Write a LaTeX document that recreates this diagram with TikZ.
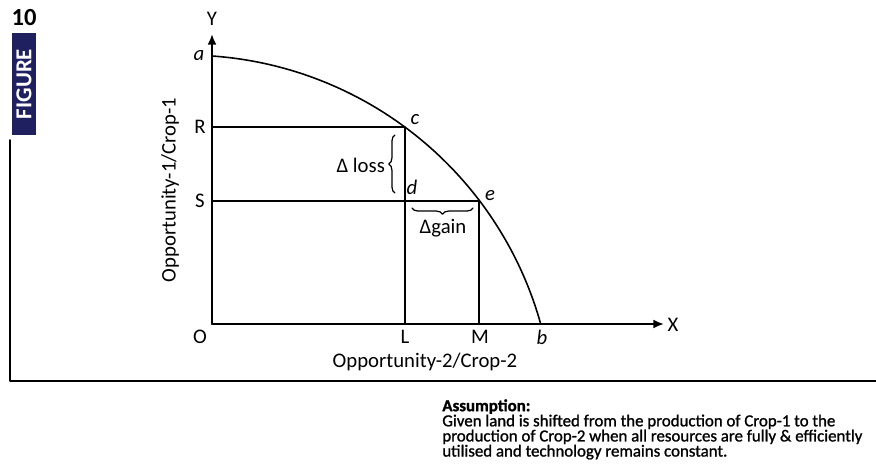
\documentclass[tikz,border=0pt]{standalone}
\usepackage{fontspec}
\setmainfont{Carlito}
\newfontfamily\notefont[FakeBold=1.2]{Carlito}
\usetikzlibrary{arrows.meta,decorations.pathreplacing}
\definecolor{badgeblue}{RGB}{30,32,96}
\tikzset{
  ppc graph/.style={
    x=0.02cm,
    y=0.02cm,
    line cap=round,
    line join=round
  },
  ppc axis/.style={
    line width=1.1pt,
    -{Latex[length=6pt,width=5pt]}
  },
  ppc guide/.style={
    line width=0.8pt
  },
  ppc curve/.style={
    line width=0.9pt
  },
  ppc label/.style={
    font=\fontsize{11.8}{12}\selectfont,
    inner sep=1pt
  },
  ppc point/.style={
    font=\fontsize{11.8}{12}\selectfont\itshape,
    inner sep=1pt
  },
  ppc brace/.style={
    line width=0.7pt,
    decorate,
    decoration={brace,amplitude=3.5pt}
  },
  ppc note/.style={
    font=\notefont\fontsize{9.6}{8.6}\selectfont,
    align=left,
    inner sep=0pt,
    anchor=north west
  }
}

\begin{document}
\begin{tikzpicture}[ppc graph]
  \useasboundingbox (-212,-142) rectangle (664,324);
  % frame and badge
  \draw[line width=1pt] (-202,184) -- (-202,-57) -- (670,-57);
  \fill[badgeblue] (-200,291) rectangle (-176,189);
  \node[rotate=90,text=white,font=\fontsize{13}{13}\selectfont\bfseries,inner sep=0pt] (fig) at (-188,240) {FIGURE};
  \node[font=\fontsize{14}{14}\selectfont\bfseries,inner sep=0pt] (num) at (-188,306) {10};

  \coordinate (O) at (0,0);
  \coordinate (ytop) at (0,290);
  \coordinate (xend) at (452,0);
  \coordinate (pa) at (0,268);
  \coordinate (pc) at (193,197);
  \coordinate (pe) at (267,123);
  \coordinate (pR) at (0,197);
  \coordinate (pS) at (0,123);
  \coordinate (pL) at (193,0);
  \coordinate (pM) at (267,0);

  \draw[ppc axis] (O) -- (ytop);
  \draw[ppc axis] (O) -- (xend);
  \draw[ppc guide] (pR) -- (pc) -- (pL);
  \draw[ppc guide] (pS) -- (pe) -- (pM);
  \draw[ppc curve] (pa) arc[start angle=86, end angle=15.6, radius=368];

  \draw[ppc brace] (183,131) -- (183,189);
  \draw[ppc brace] (261,116) -- (200,116);

  \node[ppc label] (lY) at (0,305) {Y};
  \node[ppc label] (lX) at (461,-1) {X};
  \node[ppc label] (lO) at (-12,-13) {O};
  \node[ppc label] (lR) at (-12,197) {R};
  \node[ppc label] (lS) at (-12,123) {S};
  \node[ppc label] (lL) at (193,-13) {L};
  \node[ppc label] (lM) at (268,-13) {M};
  \node[ppc point] (la) at (-13,268) {a};
  \node[ppc point] (lc) at (203,204) {c};
  \node[ppc point] (ld) at (200,137) {d};
  \node[ppc point] (le) at (278,128) {e};
  \node[ppc point] (lb) at (330,-13) {b};
  \node[ppc label,anchor=east] (lloss) at (175,159) {Δ loss};
  \node[ppc label] (lgain) at (231,96) {Δgain};

  \node[ppc label,rotate=90] (ytitle) at (-42,134) {Opportunity-1/Crop-1};
  \node[ppc label] (xtitle) at (213,-38) {Opportunity-2/Crop-2};

  \node[ppc note] (note) at (230,-75) {\textbf{Assumption:}\\
    Given land is shifted from the production of Crop-1 to the\\
    production of Crop-2 when all resources are fully \& efficiently\\
    utilised and technology remains constant.};
\end{tikzpicture}
\end{document}
